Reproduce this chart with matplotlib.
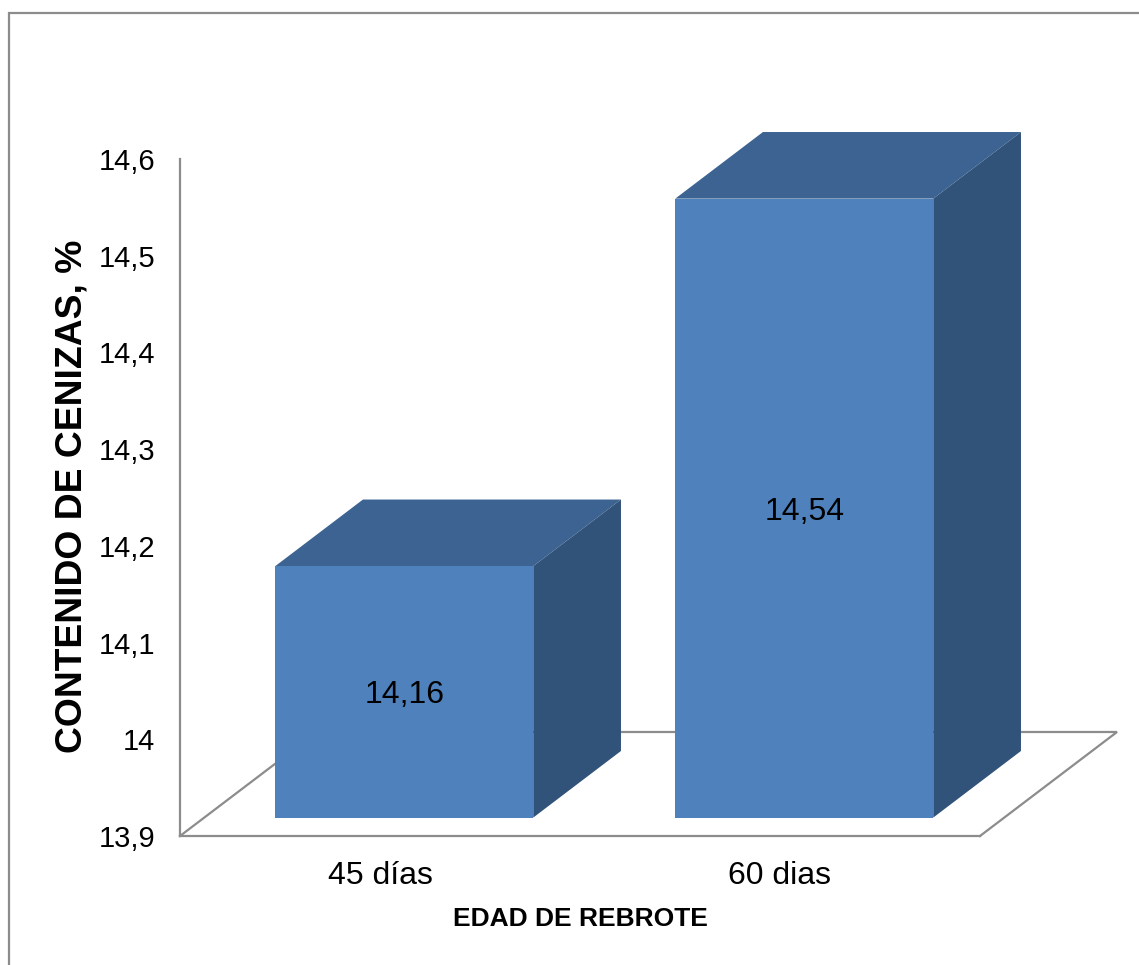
import matplotlib.pyplot as plt
from matplotlib.lines import Line2D

plt.rcParams['font.family'] = ['Liberation Sans', 'DejaVu Sans']

categories = ['45 días', '60 dias']
values = [14.16, 14.54]
value_labels = ['14,16', '14,54']
y_ticks = [13.9, 14.0, 14.1, 14.2, 14.3, 14.4, 14.5, 14.6]
y_tick_labels = ['13,9', '14', '14,1', '14,2', '14,3', '14,4', '14,5', '14,6']

W, H = 1139, 965
GREY = '#8C8C8C'
FRONT = '#4F81BD'
TOP = '#3C6391'
SIDE = '#325379'

# Oblique projection: depth 0 is the front of the floor, 1 the back
SKEW_X = 137 / 400
SKEW_Y = 104 / 967
BAR_WIDTH = 0.645
DEPTH_FRONT = 18.4 / 104
DEPTH_BACK = 85 / 104
BASE = y_ticks[0]
TOP_VALUE = y_ticks[-1]


def project(x, y, depth):
    return x + depth * SKEW_X, y + depth * SKEW_Y


fig = plt.figure(figsize=(W / 100, H / 100), dpi=100)
ax = fig.add_axes([180 / W, 1 - 836 / H, 800 / W, 677 / H])
ax.set_xlim(0, 2)
ax.set_ylim(BASE, TOP_VALUE)
ax.patch.set_visible(False)

for side in ('top', 'right'):
    ax.spines[side].set_visible(False)
for side in ('left', 'bottom'):
    ax.spines[side].set_color(GREY)
    ax.spines[side].set_linewidth(1.6)

ax.set_yticks(y_ticks)
ax.set_yticklabels(y_tick_labels, fontsize=21, color='black')
ax.set_xticks([0.5, 1.5])
ax.set_xticklabels(categories, fontsize=23, color='black')
ax.tick_params(axis='y', length=0, pad=18)
ax.tick_params(axis='x', length=0, pad=18)

ax.set_ylabel('CONTENIDO DE CENIZAS, %', fontsize=26.8, fontweight='bold')
ax.yaxis.set_label_coords(-0.1125, 0.502)
ax.set_xlabel('EDAD DE REBROTE', fontsize=19, fontweight='bold', va='center')
ax.xaxis.set_label_coords(0.5, -0.123)

# Floor outline behind the bars
floor_x, floor_y = zip(project(0, BASE, 0), project(0, BASE, 1),
                       project(2, BASE, 1), project(2, BASE, 0))
ax.plot(floor_x, floor_y, color=GREY, lw=1.6, clip_on=False, zorder=1,
        solid_joinstyle='miter')

for i, (value, label) in enumerate(zip(values, value_labels)):
    x0 = i + 0.5 - BAR_WIDTH / 2
    x1 = i + 0.5 + BAR_WIDTH / 2

    front = [project(x0, BASE, DEPTH_FRONT), project(x1, BASE, DEPTH_FRONT),
             project(x1, value, DEPTH_FRONT), project(x0, value, DEPTH_FRONT)]
    top = [project(x0, value, DEPTH_FRONT), project(x1, value, DEPTH_FRONT),
           project(x1, value, DEPTH_BACK), project(x0, value, DEPTH_BACK)]
    right = [project(x1, BASE, DEPTH_FRONT), project(x1, BASE, DEPTH_BACK),
             project(x1, value, DEPTH_BACK), project(x1, value, DEPTH_FRONT)]

    for face, colour in ((top, TOP), (right, SIDE), (front, FRONT)):
        xs, ys = zip(*face)
        ax.fill(xs, ys, color=colour, lw=0, clip_on=False, zorder=3)

    cx, cy = project(i + 0.5, (BASE + value) / 2, DEPTH_FRONT)
    ax.annotate(label, (cx, cy), xytext=(0, -2.5), textcoords='offset points',
                fontsize=23, ha='center', va='center', zorder=4)

# Chart area border, only the top and left edges fall inside the image
fig.add_artist(Line2D([9 / W, 9 / W, 1], [0, 1 - 13 / H, 1 - 13 / H],
                      color=GREY, lw=1.6, solid_joinstyle='miter'))

fig.savefig('out.png', dpi=100, facecolor='white')
